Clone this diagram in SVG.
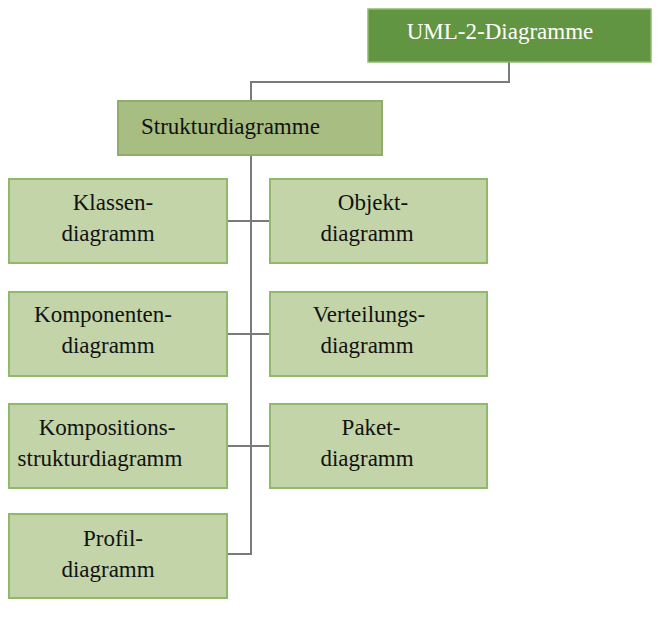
<svg xmlns="http://www.w3.org/2000/svg" width="666" height="620" viewBox="0 0 666 620">
<style>
text{font-family:'Liberation Serif','Times New Roman',serif;font-size:23px;fill:#111}
.leaf rect{fill:#c3d4a8;stroke:#8fba6c;stroke-width:2}
.leaf text{text-anchor:middle}
.c{fill:none;stroke:#7a7a7a;stroke-width:2}
</style>
<rect width="666" height="620" fill="#fff"/>
<g id="connectors">
<path class="c" d="M509 62V82H251V101"/>
<path class="c" d="M251 155V554H227"/>
<path class="c" d="M227 221H270M227 334H270M227 446H270"/>
</g>
<g id="uml2">
<rect x="368" y="9" width="283" height="53" fill="#629541" stroke="#8fba6c" stroke-width="1.5"/>
<text x="500" y="39" text-anchor="middle" style="fill:#fff">UML-2-Diagramme</text>
</g>
<g id="struktur">
<rect x="118" y="101" width="264" height="54" fill="#a7bd82" stroke="#8fae6a" stroke-width="2"/>
<text x="141" y="134">Strukturdiagramme</text>
</g>
<g id="klassen" class="leaf">
<rect x="9" y="179" width="218" height="84"/>
<text x="113" y="210">Klassen-</text>
<text x="108" y="241">diagramm</text>
</g>
<g id="objekt" class="leaf">
<rect x="270" y="179" width="217" height="84"/>
<text x="373" y="210">Objekt-</text>
<text x="367" y="241">diagramm</text>
</g>
<g id="komponenten" class="leaf">
<rect x="9" y="292" width="218" height="84"/>
<text x="103" y="322">Komponenten-</text>
<text x="108" y="353">diagramm</text>
</g>
<g id="verteilungs" class="leaf">
<rect x="270" y="292" width="217" height="84"/>
<text x="369" y="322">Verteilungs-</text>
<text x="367" y="353">diagramm</text>
</g>
<g id="kompositions" class="leaf">
<rect x="9" y="404" width="218" height="84"/>
<text x="107" y="435">Kompositions-</text>
<text x="100" y="466">strukturdiagramm</text>
</g>
<g id="paket" class="leaf">
<rect x="270" y="404" width="217" height="84"/>
<text x="371" y="435">Paket-</text>
<text x="367" y="466">diagramm</text>
</g>
<g id="profil" class="leaf">
<rect x="9" y="514" width="218" height="84"/>
<text x="113" y="546">Profil-</text>
<text x="108" y="577">diagramm</text>
</g>
</svg>
